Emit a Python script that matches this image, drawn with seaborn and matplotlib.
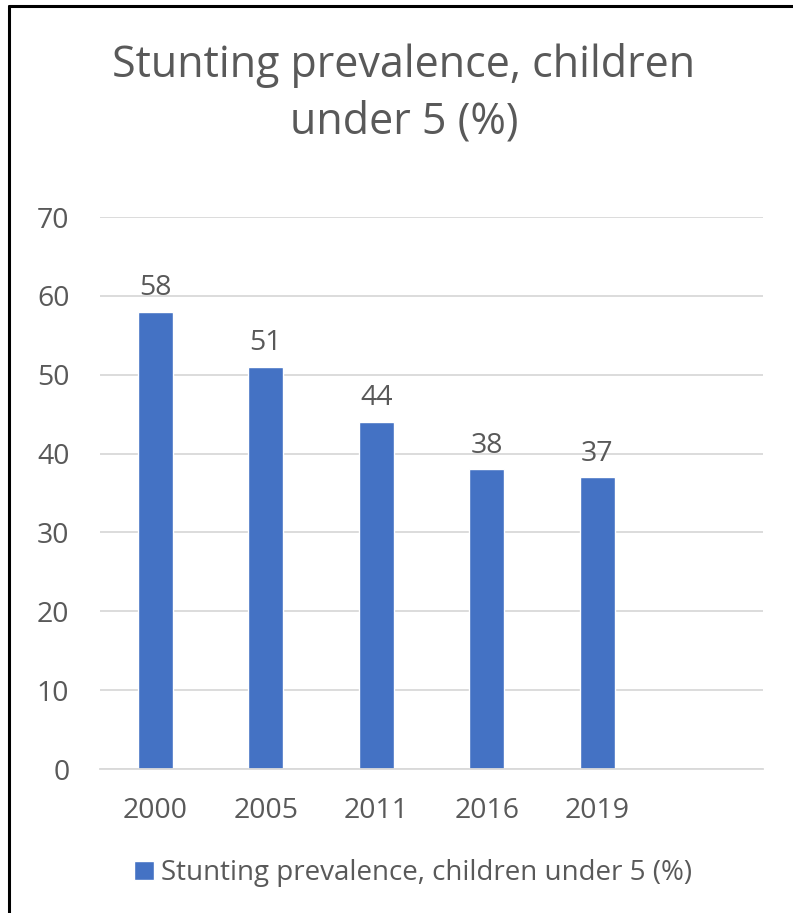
import matplotlib
matplotlib.use("Agg")
import matplotlib.pyplot as plt
from matplotlib.lines import Line2D
import seaborn as sns
import pandas as pd

years = ["2000", "2005", "2011", "2016", "2019"]
values = [58, 51, 44, 38, 37]
series_name = "Stunting prevalence, children under 5 (%)"
title = "Stunting prevalence, children\nunder 5 (%)"
yticks = [0, 10, 20, 30, 40, 50, 60, 70]

sns.set_theme(style="white")
plt.rcParams["font.family"] = ["Open Sans", "DejaVu Sans"]

text_color = "#595959"
bar_color = "#4472C4"
grid_color = "#D9D9D9"

df = pd.DataFrame({"year": years, "value": values, "series": series_name})

fig = plt.figure(figsize=(7.93, 9.13), dpi=100)
ax = fig.add_axes([100/793, 1-769/913, (763-100)/793, (769-217)/913])

sns.barplot(data=df, x="year", y="value", hue="series", palette=[bar_color],
            order=years, width=0.32, dodge=False, ax=ax, saturation=1)

ax.set_xlim(-0.5, 5.5)
ax.set_ylim(0, 70)
ax.set_yticks(yticks)
ax.set_yticklabels([str(t) for t in yticks], fontsize=20.5, color=text_color)
ax.set_xticklabels(years, fontsize=20.5, color=text_color)
ax.tick_params(axis="both", length=0)
ax.tick_params(axis="y", pad=22)
ax.tick_params(axis="x", pad=20)
ax.set_xlabel("")
ax.set_ylabel("")
ax.grid(axis="y", color=grid_color, linewidth=1.3)
ax.set_axisbelow(True)
for s in ["top", "right", "left"]:
    ax.spines[s].set_visible(False)
ax.spines["bottom"].set_color(grid_color)
ax.spines["bottom"].set_linewidth(1.3)

for c in ax.containers:
    ax.bar_label(c, labels=[str(v) for v in values], padding=7, fontsize=20.5, color=text_color)

fig.text(404/793, 1-94/913, title, ha="center", va="center", fontsize=31,
         color=text_color, linespacing=1.35)

leg = ax.legend(loc="center", bbox_to_anchor=(413/793, 1-873/913), bbox_transform=fig.transFigure,
                frameon=False, fontsize=20, handlelength=0.7, handleheight=0.7, handletextpad=0.25)
for t in leg.get_texts():
    t.set_color(text_color)

fig.add_artist(Line2D([9/793, 9/793], [0, 1-6/913], transform=fig.transFigure, color="black", linewidth=2.2))
fig.add_artist(Line2D([9/793, 1], [1-6/913, 1-6/913], transform=fig.transFigure, color="black", linewidth=2.2))

fig.savefig("out.png", dpi=100)
